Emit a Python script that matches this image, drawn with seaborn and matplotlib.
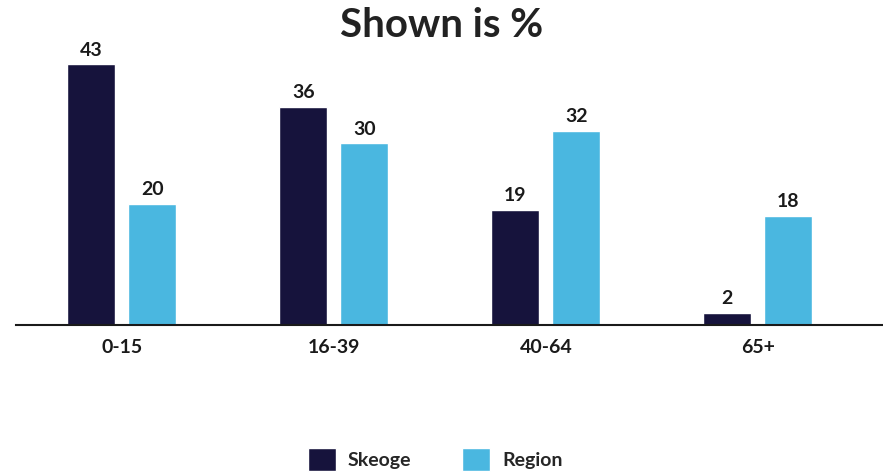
import matplotlib
matplotlib.use("Agg")
import matplotlib.pyplot as plt
import seaborn as sns
import pandas as pd

categories = ["0-15", "16-39", "40-64", "65+"]
skeoge = [43, 36, 19, 2]
region = [20, 30, 32, 18]
series_names = ["Skeoge", "Region"]
title = "Shown is %"

colors = ["#16133c", "#4ab7e0"]

df = pd.DataFrame({
    "Age": categories * 2,
    "Value": skeoge + region,
    "Series": [series_names[0]] * len(categories) + [series_names[1]] * len(categories),
})

sns.set_theme(style="white")
plt.rcParams['font.family'] = ['Lato', 'DejaVu Sans']

fig = plt.figure(figsize=(8.83, 4.74), dpi=100)
ax = fig.add_axes([16/883, 149/474, 1 - 16/883, 0.89 - 149/474])

sns.barplot(data=df, x="Age", y="Value", hue="Series", palette=colors,
            width=0.576, gap=0.215, ax=ax, legend=False, saturation=1)

for cont in ax.containers:
    ax.bar_label(cont, fmt="%d", padding=4, fontsize=14, fontweight="bold", color="#1a1a1a")

ax.set_xlim(-0.498, 3.59)
ax.set_ylim(0, 45)
ax.set_xlabel("")
ax.set_ylabel("")
ax.set_yticks([])
for s in ["top", "right", "left"]:
    ax.spines[s].set_visible(False)
ax.spines["bottom"].set_color("#1a1a1a")
ax.spines["bottom"].set_linewidth(1.5)
ax.tick_params(axis="x", length=0, pad=10, labelsize=14, labelcolor="#1a1a1a")
for lbl in ax.get_xticklabels():
    lbl.set_fontweight("bold")

fig.text(0.5, 0.947, title, ha="center", va="center", fontsize=29, fontweight="bold", color="#222222")

from matplotlib.patches import Patch
handles = [Patch(facecolor=c, label=n) for c, n in zip(colors, series_names)]
leg = fig.legend(handles=handles, loc="center", bbox_to_anchor=(0.493, 0.03), ncol=2, frameon=False,
                 handlelength=1.45, handleheight=1.45, columnspacing=2.6, handletextpad=0.6,
                 prop={"size": 14, "weight": "bold"})

fig.savefig("out.png", dpi=100)
